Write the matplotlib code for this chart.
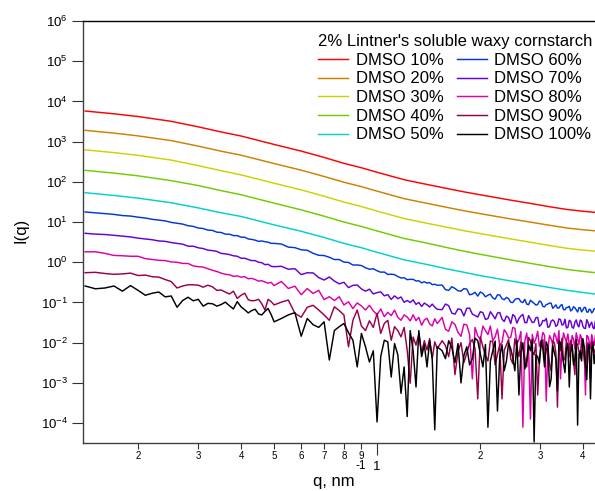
import matplotlib
matplotlib.use('Agg')
import matplotlib.pyplot as plt
from matplotlib.ticker import FuncFormatter, NullLocator
import numpy as np

plt.rcParams.update({
    'font.family': ['Liberation Sans', 'DejaVu Sans'],
    'mathtext.fontset': 'custom',
    'mathtext.rm': 'Liberation Sans',
    'mathtext.it': 'Liberation Sans:italic',
    'mathtext.bf': 'Liberation Sans:bold',
})

# ---------- data (q in nm^-1, I(q)) ----------
labels = ['DMSO 10%', 'DMSO 20%', 'DMSO 30%', 'DMSO 40%', 'DMSO 50%',
          'DMSO 60%', 'DMSO 70%', 'DMSO 80%', 'DMSO 90%', 'DMSO 100%']
colors = ['#ff0000', '#cc8000', '#d0d000', '#70cc00', '#00d0d0',
          '#0038d8', '#6400d4', '#dd00aa', '#99004c', '#000000']

# smooth high-intensity curves
q_smooth = [0.14, 0.17, 0.2, 0.25, 0.3, 0.35, 0.4, 0.5, 0.6, 0.7, 0.8, 0.9, 1.0,
            1.2, 1.4, 1.6, 1.8, 2.0, 2.4, 2.8, 3.2, 3.6, 4.0, 4.35]
i_10 = [5770, 4920, 4210, 3200, 2330, 1740, 1380, 851, 581, 405, 288, 224, 173,
        113, 86.1, 68.5, 56.1, 47.8, 36.3, 29.2, 24.0, 20.5, 18.6, 17.4]
i_20 = [1910, 1630, 1390, 1060, 773, 577, 461, 285, 195, 136, 97.7, 76.0, 58.7,
        38.2, 29.2, 23.2, 19.0, 16.2, 12.4, 10.0, 8.30, 7.08, 6.44, 6.04]
i_30 = [625, 533, 456, 347, 253, 189, 149, 92.3, 63.0, 43.9, 31.3, 24.3, 18.8,
        12.2, 9.33, 7.43, 6.08, 5.18, 3.94, 3.16, 2.61, 2.22, 2.01, 1.89]
i_40 = [193, 165, 141, 107, 80.9, 60.4, 47.8, 29.5, 20.1, 14.0, 10.0, 7.78, 6.01,
        3.91, 2.99, 2.32, 1.88, 1.58, 1.19, 0.944, 0.778, 0.662, 0.594, 0.551]
i_50 = [53.6, 45.9, 39.3, 30.2, 22.5, 17.0, 13.8, 8.51, 5.89, 4.14, 2.95, 2.30, 1.77,
        1.15, 0.881, 0.685, 0.561, 0.467, 0.355, 0.285, 0.235, 0.200, 0.177, 0.162]

# noisy low-intensity curves, denser q sampling
q_low = [0.14, 0.15, 0.16, 0.17, 0.18, 0.19, 0.20, 0.21, 0.22, 0.23, 0.24, 0.25, 0.26,
         0.27, 0.28, 0.29, 0.30, 0.31, 0.32, 0.33, 0.34, 0.35, 0.36, 0.37, 0.38, 0.39,
         0.40, 0.41, 0.42, 0.43, 0.44, 0.45, 0.46, 0.47, 0.48, 0.49, 0.50]
q_mid = [0.525, 0.55, 0.575, 0.6, 0.625, 0.65, 0.675, 0.7, 0.725, 0.75, 0.775, 0.8,
         0.825, 0.85, 0.875, 0.9, 0.925, 0.95, 0.975, 1.0, 1.025, 1.05, 1.075, 1.1,
         1.125, 1.15, 1.175, 1.2, 1.225, 1.25, 1.275, 1.3, 1.325, 1.35, 1.375, 1.4,
         1.425, 1.45, 1.475, 1.5]
q_high = [1.55, 1.585, 1.62, 1.655, 1.69, 1.725, 1.76, 1.795, 1.83, 1.865,
          1.90, 1.935, 1.97, 2.005, 2.04, 2.075, 2.11, 2.145, 2.18, 2.215,
          2.25, 2.285, 2.32, 2.355, 2.39, 2.425, 2.46, 2.495, 2.53, 2.565,
          2.60, 2.635, 2.67, 2.705, 2.74, 2.775, 2.81, 2.845, 2.88, 2.915,
          2.95, 2.985, 3.02, 3.055, 3.09, 3.125, 3.16, 3.195, 3.23, 3.265,
          3.30, 3.335, 3.37, 3.405, 3.44, 3.475, 3.51, 3.545, 3.58, 3.615,
          3.65, 3.685, 3.72, 3.755, 3.79, 3.825, 3.86, 3.895, 3.93, 3.965,
          4.00, 4.035, 4.07, 4.105, 4.14, 4.175, 4.21, 4.245, 4.28, 4.315,
          4.35]

i_60 = [17.8, 17.0, 16.2, 15.5, 14.5, 14.1, 13.2, 12.6, 11.7, 11.2, 10.7, 9.8, 9.3, 8.9,
        8.1, 7.8, 7.1, 6.9, 6.3, 6.2, 5.6, 5.5, 5.0, 5.0, 4.6, 4.6, 4.2, 4.2, 3.8, 3.7,
        3.55, 3.3, 3.39, 3.24, 3.16, 2.95, 2.95,
        2.84, 2.38, 2.31, 2.04, 1.99, 1.67, 1.49, 1.47, 1.33, 1.17, 1.17, 1.01, 0.989,
        0.853, 0.857, 0.828, 0.730, 0.671, 0.690, 0.615, 0.566, 0.571, 0.497, 0.505,
        0.492, 0.441, 0.407, 0.411, 0.369, 0.376, 0.376, 0.342, 0.346, 0.308, 0.327,
        0.303, 0.313, 0.277, 0.284, 0.268,
        0.271, 0.209, 0.200, 0.246, 0.223, 0.195, 0.191, 0.221, 0.215, 0.155,
        0.162, 0.179, 0.144, 0.182, 0.168, 0.138, 0.152, 0.161, 0.130, 0.121,
        0.155, 0.154, 0.124, 0.117, 0.134, 0.124, 0.101, 0.0995, 0.118, 0.125,
        0.124, 0.104, 0.0995, 0.119, 0.0912, 0.088, 0.114, 0.103, 0.0951, 0.0862,
        0.0889, 0.109, 0.1026, 0.0796, 0.0778, 0.0884, 0.0912, 0.0967, 0.0959, 0.0715,
        0.0793, 0.0872, 0.0723, 0.0730, 0.0839, 0.0886, 0.0662, 0.0660, 0.0743, 0.0754,
        0.0804, 0.0612, 0.0661, 0.0783, 0.0740, 0.0654, 0.0581, 0.0744, 0.0738, 0.0585,
        0.0649, 0.0753, 0.0752, 0.0582, 0.0574, 0.0684, 0.0655, 0.0549, 0.0597, 0.0698,
        0.0703]
i_70 = [5.25, 5.01, 4.90, 4.68, 4.47, 4.27, 3.98, 3.80, 3.63, 3.39, 3.31, 3.09, 2.95,
        2.82, 2.51, 2.51, 2.29, 2.19, 2.00, 1.95, 1.86, 1.66, 1.62, 1.55, 1.45, 1.41,
        1.26, 1.26, 1.17, 1.10, 1.10, 1.00, 0.977, 0.871, 0.891, 0.794, 0.776,
        0.794, 0.670, 0.693, 0.494, 0.548, 0.543, 0.415, 0.361, 0.430, 0.342, 0.290,
        0.318, 0.234, 0.267, 0.272, 0.217, 0.191, 0.214, 0.163, 0.176, 0.184, 0.146,
        0.157, 0.119, 0.146, 0.124, 0.137, 0.101, 0.112, 0.100, 0.116, 0.0895, 0.100,
        0.0796, 0.0966, 0.0875, 0.0773, 0.0910, 0.0766, 0.0676,
        0.0662, 0.0914, 0.0830, 0.0543, 0.0512, 0.0695, 0.0664, 0.0462, 0.0716, 0.0724,
        0.0513, 0.0474, 0.0435, 0.0589, 0.0558, 0.0378, 0.0398, 0.0590, 0.0486, 0.0392,
        0.0547, 0.0564, 0.0385, 0.0336, 0.0458, 0.0422, 0.0299, 0.0502, 0.0448, 0.0307,
        0.0399, 0.0462, 0.0506, 0.0317, 0.0313, 0.0472, 0.0386, 0.0316, 0.0325, 0.0418,
        0.0427, 0.0255, 0.0280, 0.0356, 0.0347, 0.0401, 0.0240, 0.0251, 0.0344, 0.0368,
        0.0335, 0.0254, 0.0276, 0.0391, 0.0374, 0.0274, 0.0284, 0.0384, 0.0233, 0.0239,
        0.0361, 0.0339, 0.0241, 0.0229, 0.0321, 0.0369, 0.0275, 0.0248, 0.0366, 0.0348,
        0.0256, 0.0228, 0.0226, 0.0374, 0.0321, 0.0239, 0.0291, 0.0323, 0.0237, 0.0222,
        0.0344]
i_80 = [1.82, 1.82, 1.66, 1.48, 1.45, 1.41, 1.41, 1.23, 1.17, 1.12, 1.10, 1.02, 1.00,
        0.933, 0.933, 0.813, 0.776, 0.759, 0.692, 0.631, 0.589, 0.537, 0.501, 0.490,
        0.447, 0.457, 0.427, 0.437, 0.389, 0.398, 0.372, 0.339, 0.347, 0.324, 0.302,
        0.316, 0.263,
        0.333, 0.223, 0.254, 0.156, 0.222, 0.167, 0.201, 0.118, 0.139, 0.112, 0.139,
        0.0867, 0.104, 0.0705, 0.0973, 0.0818, 0.0650, 0.0849, 0.0621, 0.0493, 0.0689,
        0.0443, 0.0569, 0.0470, 0.0646, 0.0426, 0.0361, 0.0490, 0.0436, 0.0348, 0.0494,
        0.0353, 0.0426, 0.0272, 0.0366, 0.0406, 0.0292, 0.0261, 0.0394, 0.0299,
        0.0424, 0.0215, 0.0193, 0.0330, 0.0284, 0.0180, 0.0144, 0.0290, 0.0275, 0.0160,
        0.00126, 0.0240, 0.0148, 0.0120, 0.0258, 0.0200, 0.0159, 0.0260, 0.0112, 0.0140,
        0.0217, 0.0085, 0.0102, 0.0210, 0.0177, 0.0130, 0.0136, 0.0240, 0.0228, 0.0095,
        0.0118, 0.0190, 7.9e-5, 0.0110, 0.0173, 0.0065, 1.26e-4, 0.0160, 0.00968, 0.0125,
        0.0191, 0.0080, 0.0105, 0.0180, 0.0153, 0.00035, 0.0069, 0.0150, 0.0123, 0.0092,
        0.0173, 0.0140, 0.0096, 0.0200, 0.00126, 0.0078, 0.0176, 0.0130, 0.0108, 0.0165,
        0.0088, 0.0062, 0.0151, 0.0120, 0.0070, 0.0175, 0.0126, 0.0090, 0.0159, 0.0130,
        0.0101, 0.0068, 5.0e-4, 0.0150, 0.0141, 0.0105, 0.0072, 0.0160, 0.0112, 0.0085,
        0.0150]
i_90 = [0.550, 0.562, 0.525, 0.501, 0.513, 0.537, 0.468, 0.479, 0.437, 0.427, 0.372,
        0.331, 0.229, 0.257, 0.275, 0.275, 0.269, 0.240, 0.269, 0.245, 0.200, 0.204,
        0.182, 0.162, 0.191, 0.126, 0.151, 0.170, 0.117, 0.110, 0.112, 0.120, 0.093,
        0.065, 0.120, 0.105, 0.087,
        0.102, 0.115, 0.054, 0.043, 0.076, 0.085, 0.065, 0.049, 0.036, 0.078, 0.063,
        0.049, 0.0079, 0.036, 0.065, 0.026, 0.020, 0.035, 0.024, 0.054, 0.017, 0.030,
        0.036, 0.0115, 0.025, 0.020, 0.014, 0.024, 0.0066, 0.00098, 0.0138, 0.0087,
        0.0166, 0.0056, 0.0112, 0.0066, 0.0126, 0.0040, 0.0105, 0.0071,
        0.0112, 0.0085, 0.0045, 0.0130, 0.0016, 0.0060, 0.0100, 0.0032, 0.0056, 0.0095,
        0.0120, 0.0070, 0.0004, 0.0140, 0.0079, 0.0048, 0.0035, 0.0110, 0.0105, 0.0028,
        0.0050, 0.0090, 0.0004, 0.0065, 0.0089, 0.0120, 0.0040, 0.0030, 0.0126, 0.0075,
        0.0045, 0.0105, 0.0071, 0.0042, 0.0025, 0.0135, 0.0112, 0.0060, 0.0050, 0.0095,
        0.0005, 0.0038, 0.0089, 0.0120, 0.0035, 0.0068, 0.0079, 0.0030, 0.0020, 0.0110,
        0.0100, 0.0055, 0.00025, 0.0090, 0.0063, 0.0130, 0.0035, 0.0042, 0.0112, 0.0080,
        0.0045, 0.0115, 0.0079, 0.0035, 0.0016, 0.0100, 0.0089, 0.0060, 0.0040, 0.0125,
        0.0071, 0.0040, 0.0025, 0.0085, 0.0100, 0.0055, 0.00126, 0.0110, 0.0079, 0.0065,
        0.0050]
i_100 = [0.257, 0.219, 0.229, 0.257, 0.191, 0.263, 0.200, 0.151, 0.170, 0.182, 0.138,
         0.145, 0.076, 0.112, 0.135, 0.110, 0.120, 0.081, 0.095, 0.093, 0.081, 0.089,
         0.102, 0.083, 0.069, 0.105, 0.078, 0.066, 0.055, 0.063, 0.068, 0.052, 0.049,
         0.060, 0.071, 0.050, 0.033,
         0.040, 0.049, 0.056, 0.0145, 0.040, 0.028, 0.024, 0.033, 0.0037, 0.020, 0.025,
         0.030, 0.0178, 0.0115, 0.0025, 0.017, 0.0079, 0.0033, 0.0063, 0.000107, 0.0045,
         0.0115, 0.0105, 0.0014, 0.0095, 0.0050, 0.00055, 0.0025, 0.000145, 0.020,
         0.0063, 0.00079, 0.020, 0.0045, 0.0089, 0.0025, 0.0112, 0.0040, 0.000068, 0.0079,
         0.0063, 0.0040, 0.0112, 0.0075, 0.0032, 0.0095, 0.0010, 0.0048, 0.0079, 0.0028,
         0.0040, 0.0130, 0.0112, 0.0052, 0.0025, 0.0090, 0.000079, 0.0035, 0.0063, 0.0110,
         0.0002, 0.0045, 0.0089, 0.0020, 0.0035, 0.0098, 0.0071, 0.0042, 0.0020, 0.0115,
         0.0005, 0.0060, 0.0100, 0.0022, 0.0035, 0.0088, 0.0063, 0.0120, 0.000034, 0.0050,
         0.0045, 0.0030, 0.0112, 0.0070, 0.0025, 0.0105, 0.0079, 0.0008, 0.00126, 0.0085,
         0.0056, 0.0040, 0.00063, 0.0110, 0.0100, 0.0055, 0.0032, 0.0018, 0.0071, 0.0095,
         0.00079, 0.0060, 0.0089, 0.0028, 0.0040, 0.0120, 0.000089, 0.0050, 0.0063, 0.0035,
         0.0126, 0.0080, 0.0028, 0.0012, 0.0079, 0.0090, 0.0004, 0.0060, 0.0100, 0.0030,
         0.0050]

x_major = [1.0]
x_major_labels = ['1']
x_minor = [0.2, 0.3, 0.4, 0.5, 0.6, 0.7, 0.8, 0.9, 2.0, 3.0, 4.0]
x_minor_labels = ['2', '3', '4', '5', '6', '7', '8', '9', '2', '3', '4']
y_ticks = [1e-4, 1e-3, 1e-2, 1e-1, 1e0, 1e1, 1e2, 1e3, 1e4, 1e5, 1e6]

# ---------- figure ----------
fig = plt.figure(figsize=(5.95, 4.91), dpi=100)
ax = fig.add_axes([83 / 595, 1 - 443 / 491, 512 / 595, 422 / 491])

q_dense = q_low + q_mid + q_high
series = [(q_smooth, i_10), (q_smooth, i_20), (q_smooth, i_30), (q_smooth, i_40),
          (q_smooth, i_50), (q_dense, i_60), (q_dense, i_70), (q_dense, i_80),
          (q_dense, i_90), (q_dense, i_100)]
for (q, inten), lab, col in zip(series, labels, colors):
    ax.plot(q, inten, color=col, lw=1.05, label=lab)

ax.set_xscale('log')
ax.set_yscale('log')
ax.set_xlim(0.138, 4.34)
ax.set_ylim(3.2e-5, 1e6)

ax.set_xticks(x_major, labels=x_major_labels)
ax.set_xticks(x_minor, labels=x_minor_labels, minor=True)
ax.set_yticks(y_ticks)
ax.yaxis.set_minor_locator(NullLocator())
ax.yaxis.set_major_formatter(FuncFormatter(
    lambda v, pos: r'$\mathregular{10^{%d}}$' % round(np.log10(v))))

ax.tick_params(axis='x', which='major', length=8.4, width=0.8, pad=4.5,
               labelsize=9.5, color='#333333')
ax.tick_params(axis='x', which='minor', length=4.3, width=0.8, pad=1.5,
               labelsize=7, color='#333333')
ax.tick_params(axis='y', which='major', length=7.9, width=0.8, pad=3,
               labelsize=9.5, color='#333333')

ax.spines['right'].set_visible(False)
ax.spines['top'].set_color('black')
ax.spines['top'].set_linewidth(1.0)
for s in ['left', 'bottom']:
    ax.spines[s].set_color('#404040')
    ax.spines[s].set_linewidth(1.0)

# axis titles (the -1 exponent sits high, as in the original)
fig.text(313 / 595, 1 - 486 / 491, 'q, nm', ha='left', va='baseline', fontsize=12)
fig.text(355 / 595, 1 - 469 / 491, '-1', ha='left', va='baseline', fontsize=8.5)
fig.text(21 / 595, 1 - 230 / 491, 'I(q)', rotation=90, ha='center', va='center',
         fontsize=12)

ax.legend(ncol=2, title="2% Lintner's soluble waxy cornstarch", frameon=False,
          fontsize=12, title_fontsize=12, handlelength=1.8, handletextpad=0.45,
          columnspacing=0.8, labelspacing=0.22, borderpad=0.24, borderaxespad=0,
          loc='upper right', bbox_to_anchor=(596 / 595, 1 - 30 / 491),
          bbox_transform=fig.transFigure)

fig.savefig('out.png', dpi=100)
